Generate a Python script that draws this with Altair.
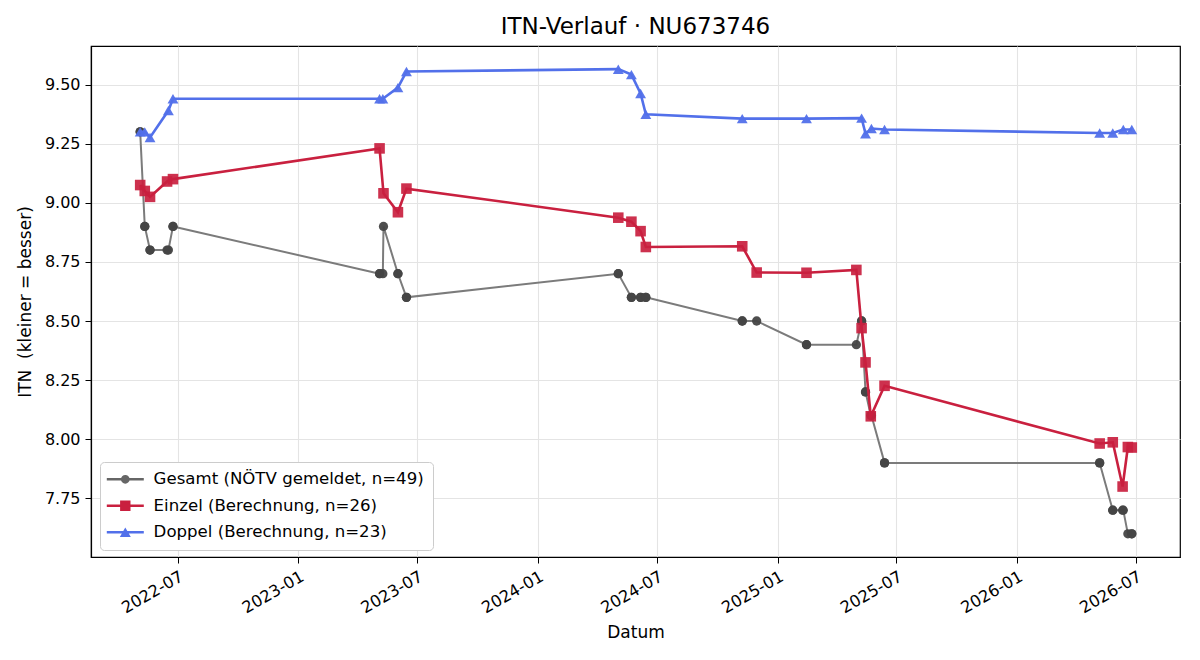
import altair as alt
import pandas as pd

# ---------------- data ----------------
gesamt_dates = [
    "2022-05-05", "2022-05-05", "2022-05-12", "2022-05-12", "2022-05-20", "2022-05-20",
    "2022-06-15", "2022-06-17", "2022-06-24", "2022-06-24",
    "2023-05-05", "2023-05-05", "2023-05-10", "2023-05-11", "2023-06-02", "2023-06-02",
    "2023-06-15", "2023-06-15",
    "2024-05-03", "2024-05-03", "2024-05-23", "2024-05-23", "2024-06-06", "2024-06-06",
    "2024-06-14", "2024-06-14",
    "2024-11-08", "2024-11-08", "2024-11-30", "2025-02-14", "2025-02-14", "2025-05-01",
    "2025-05-09", "2025-05-09", "2025-05-15", "2025-05-15", "2025-05-23", "2025-05-24",
    "2025-06-13", "2025-06-13",
    "2026-05-07", "2026-05-07", "2026-05-27", "2026-05-27", "2026-06-11", "2026-06-12",
    "2026-06-19", "2026-06-25", "2026-06-25",
]
gesamt_itn = [
    9.30, 9.30, 8.90, 8.90, 8.80, 8.80,
    8.80, 8.80, 8.90, 8.90,
    8.70, 8.70, 8.70, 8.90, 8.70, 8.70,
    8.60, 8.60,
    8.70, 8.70, 8.60, 8.60, 8.60, 8.60,
    8.60, 8.60,
    8.50, 8.50, 8.50, 8.40, 8.40, 8.40,
    8.50, 8.50, 8.20, 8.20, 8.10, 8.10,
    7.90, 7.90,
    7.90, 7.90, 7.70, 7.70, 7.70, 7.70,
    7.60, 7.60, 7.60,
]

einzel_dates = [
    "2022-05-05", "2022-05-12", "2022-05-20", "2022-06-15", "2022-06-24",
    "2023-05-05", "2023-05-11", "2023-06-02", "2023-06-15",
    "2024-05-03", "2024-05-23", "2024-06-06", "2024-06-14",
    "2024-11-08", "2024-11-30", "2025-02-14", "2025-05-01", "2025-05-09",
    "2025-05-15", "2025-05-23", "2025-06-13",
    "2026-05-07", "2026-05-27", "2026-06-11", "2026-06-19", "2026-06-25",
]
einzel_itn = [
    9.075, 9.05, 9.025, 9.09, 9.10,
    9.23, 9.04, 8.96, 9.06,
    8.937, 8.92, 8.88, 8.813,
    8.816, 8.705, 8.704, 8.716, 8.47,
    8.325, 8.097, 8.226,
    7.982, 7.987, 7.80, 7.967, 7.965,
]

doppel_dates = [
    "2022-05-05", "2022-05-12", "2022-05-20", "2022-06-17", "2022-06-24",
    "2023-05-05", "2023-05-10", "2023-06-02", "2023-06-15",
    "2024-05-03", "2024-05-23", "2024-06-06", "2024-06-14",
    "2024-11-08", "2025-02-14", "2025-05-09", "2025-05-15", "2025-05-24", "2025-06-13",
    "2026-05-07", "2026-05-27", "2026-06-12", "2026-06-25",
]
doppel_itn = [
    9.30, 9.30, 9.276, 9.39, 9.44,
    9.44, 9.44, 9.487, 9.555,
    9.565, 9.542, 9.462, 9.374,
    9.356, 9.356, 9.358, 9.292, 9.314, 9.31,
    9.295, 9.295, 9.31, 9.31,
]

series_labels = [
    "Gesamt (NÖTV gemeldet, n=49)",
    "Einzel (Berechnung, n=26)",
    "Doppel (Berechnung, n=23)",
]
y_ticks = [7.75, 8.00, 8.25, 8.50, 8.75, 9.00, 9.25, 9.50]
x_tick_years_months = [(2022, 7), (2023, 1), (2023, 7), (2024, 1), (2024, 7),
                       (2025, 1), (2025, 7), (2026, 1), (2026, 7)]

# ---------------- styling ----------------
GRAY_LINE = "#7b7b7b"
GRAY_PT = "#444444"
RED = "#c9203f"
BLUE = "#5270ea"
FONT = "DejaVu Sans"

df_g = pd.DataFrame({"date": gesamt_dates, "itn": gesamt_itn, "series": series_labels[0]})
df_e = pd.DataFrame({"date": einzel_dates, "itn": einzel_itn, "series": series_labels[1]})
df_d = pd.DataFrame({"date": doppel_dates, "itn": doppel_itn, "series": series_labels[2]})
df_all = pd.concat([df_g, df_e, df_d], ignore_index=True)

x_enc = alt.X(
    "date:T",
    scale=alt.Scale(
        type="utc",
        domain=[alt.DateTime(year=2022, month=2, date=19, utc=True),
                alt.DateTime(year=2026, month=9, date=6, hours=12, utc=True)],
        nice=False,
    ),
    axis=alt.Axis(
        values=[alt.DateTime(year=y, month=m, date=1, utc=True) for y, m in x_tick_years_months],
        labelExpr="utcFormat(datum.value, '%Y-%m')",
        labelAngle=330, labelAlign="right", labelBaseline="top", labelFontSize=16.3,
        title="Datum", titlePadding=8,
    ),
)
y_enc = alt.Y(
    "itn:Q",
    scale=alt.Scale(domain=[7.502, 9.663], nice=False, zero=False),
    axis=alt.Axis(values=y_ticks, format=".2f", title="ITN\u00a0 (kleiner = besser)", titlePadding=10),
)

g_line = alt.Chart(df_g).mark_line(color=GRAY_LINE, strokeWidth=2).encode(x=x_enc, y=y_enc)
g_pts = alt.Chart(df_g).mark_point(shape="circle", filled=True, size=86, color=GRAY_PT, opacity=0.95).encode(x=x_enc, y=y_enc)
e_line = alt.Chart(df_e).mark_line(color=RED, strokeWidth=2.6).encode(x=x_enc, y=y_enc)
e_pts = alt.Chart(df_e).mark_point(shape="square", filled=True, size=112, color=RED, opacity=0.92).encode(x=x_enc, y=y_enc)
d_line = alt.Chart(df_d).mark_line(color=BLUE, strokeWidth=2.6).encode(x=x_enc, y=y_enc)
d_pts = alt.Chart(df_d).mark_point(shape="triangle-up", filled=True, size=118, color=BLUE, opacity=0.95).encode(x=x_enc, y=y_enc)

# legend symbols: a short line with the marker on it (unit box scaled by symbolSize)
r = 6.0
lw = 1.25 / r
lx = 18.5 / r
p_circle = (f"M{-lx},{-lw}H{lx}V{lw}H{-lx}Z "
            f"M{-4.4/r},0A{4.4/r},{4.4/r} 0 1,1 {4.4/r},0A{4.4/r},{4.4/r} 0 1,1 {-4.4/r},0Z")
p_square = f"M{-lx},{-lw}H{lx}V{lw}H{-lx}Z M{-5.2/r},{-5.2/r}H{5.2/r}V{5.2/r}H{-5.2/r}Z"
p_tri = f"M{-lx},{-lw}H{lx}V{lw}H{-lx}Z M0,{-4.8/r}L{5.5/r},{4.8/r}H{-5.5/r}Z"

legend_kw = dict(
    orient="none", legendX=9, legendY=416, title=None,
    fillColor="white", strokeColor="#cccccc", cornerRadius=4, padding=9,
    labelFontSize=16.6, labelFont=FONT, labelColor="black", labelLimit=500,
    symbolSize=r * r * 4, symbolOffset=8, labelOffset=20, rowPadding=9.5,
    symbolStrokeWidth=0, symbolOpacity=1,
)
leg = alt.Chart(df_all).mark_point(filled=True, opacity=0).encode(
    x=x_enc, y=y_enc,
    color=alt.Color("series:N", scale=alt.Scale(domain=series_labels, range=["#666666", RED, BLUE]),
                    legend=alt.Legend(**legend_kw)),
    shape=alt.Shape("series:N", scale=alt.Scale(domain=series_labels, range=[p_circle, p_square, p_tri]),
                    legend=alt.Legend(**legend_kw)),
)

chart = alt.layer(g_line, g_pts, e_line, e_pts, d_line, d_pts, leg).properties(
    width=1089, height=511,
    autosize=alt.AutoSizeParams(type="none"),
    padding={"left": 91, "top": 46, "right": 20, "bottom": 103},
    title=alt.TitleParams("ITN-Verlauf · NU673746", fontSize=23, font=FONT, fontWeight="normal",
                          anchor="middle", offset=7, color="black"),
).configure(font=FONT).configure_view(
    stroke="black", strokeWidth=1.2
).configure_axis(
    labelFont=FONT, titleFont=FONT, labelFontSize=16, titleFontSize=17, titleFontWeight="normal",
    labelColor="black", titleColor="black", domainColor="black", tickColor="black",
    tickSize=6, labelPadding=5, gridColor="#e4e4e4", gridWidth=1.1, domainWidth=1.2,
)

chart.save("out.html", embed_options={"renderer": "svg", "actions": False})
